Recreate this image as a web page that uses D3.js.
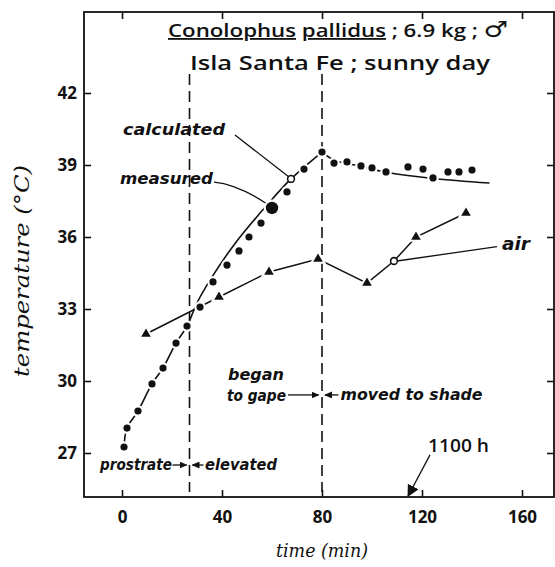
<!DOCTYPE html>
<html><head><meta charset="utf-8">
<script src="https://cdn.jsdelivr.net/npm/d3@7"></script>
<style>body{margin:0;background:#fff}svg{display:block}</style>
</head><body>
<svg id="c" width="555" height="567"></svg>
<script>
// ---- data ----
const measuredTime = [0.8,2,6.4,12,16.4,21.6,26,31.2,36.4,42,46.8,50.8,55.6,60,66,72.8,80,84.8,90,95.6,100,105.6,114.4,120.4,124.4,130.4,134.8,140];
const measuredTemp = [27.25,28.04,28.75,29.88,30.54,31.58,32.29,33.08,34.13,34.83,35.42,36.0,36.58,37.21,37.88,38.83,39.54,39.08,39.13,38.96,38.88,38.71,38.92,38.83,38.46,38.71,38.71,38.79];
const highlightTime = 60;
const calcRiseTime = [0.8,2,6.4,12,16.4,21.6,26,30,35.2,45,58,67.6,80];
const calcRiseTemp = [27.25,28.04,28.75,29.88,30.54,31.58,32.29,33.25,34.2,35.7,37.33,38.42,39.54];
const calcFallTime = [80,85,95,105.6,124.4,147];
const calcFallTemp = [39.54,39.2,38.96,38.7,38.44,38.25];
const airTime = [9.6,38.8,58.8,78.4,98,108.8,117.6,137.6];
const airTemp = [31.96,33.5,34.54,35.08,34.08,35.0,36.0,37.0];
const calcMarker = [67.6,38.42];
const airMarker = [108.8,35.0];
const eventTimes = [27,80];
const xTicks = [0,40,80,120,160];
const yTicks = [27,30,33,36,39,42];

// ---- layout ----
const frame = {left:84, right:554, top:12, bottom:497};
const ink = "#111";
const svg = d3.select("#c");
const x = d3.scaleLinear().domain([0,160]).range([122,522]);
const y = d3.scaleLinear().domain([27,42]).range([453,93]);

const defs = svg.append("defs");
defs.append("marker").attr("id","ah").attr("markerUnits","userSpaceOnUse")
  .attr("markerWidth",8).attr("markerHeight",7).attr("refX",7).attr("refY",3.5).attr("orient","auto")
  .append("path").attr("d","M0,0 L8,3.5 L0,7 Z").attr("fill",ink);
defs.append("marker").attr("id","ahBig").attr("markerUnits","userSpaceOnUse")
  .attr("markerWidth",12).attr("markerHeight",12).attr("refX",11).attr("refY",6).attr("orient","auto")
  .append("path").attr("d","M0,0 L12,6 L0,12 Z").attr("fill",ink);

// frame
svg.append("rect").attr("x",frame.left).attr("y",frame.top)
  .attr("width",frame.right-frame.left).attr("height",frame.bottom-frame.top)
  .attr("fill","none").attr("stroke",ink).attr("stroke-width",1.8);

const tickFont = "'Open Sans', sans-serif";
function styleAxis(g){
  g.select(".domain").remove();
  g.selectAll(".tick line").attr("stroke",ink).attr("stroke-width",1.6);
  g.selectAll(".tick text").attr("fill",ink).style("font-family",tickFont)
    .style("font-size","17px").style("font-weight","700");
}
svg.append("g").attr("transform",`translate(${frame.left},0)`)
  .call(d3.axisLeft(y).tickValues(yTicks).tickSize(-7).tickPadding(7).tickFormat(d3.format("d")))
  .call(styleAxis);
svg.append("g").attr("transform",`translate(0,${frame.bottom})`)
  .call(d3.axisBottom(x).tickValues(xTicks).tickSize(-7).tickPadding(14).tickFormat(d3.format("d")))
  .call(styleAxis);
svg.append("g").attr("transform",`translate(0,${frame.top})`)
  .call(d3.axisTop(x).tickValues(xTicks).tickSize(-7).tickFormat(""))
  .call(styleAxis);
svg.append("g").attr("transform",`translate(${frame.right},0)`)
  .call(d3.axisRight(y).tickValues(yTicks).tickSize(-7).tickFormat(""))
  .call(styleAxis);

// axis titles
svg.append("text").attr("transform",`translate(29,271) rotate(-90)`)
  .attr("text-anchor","middle").attr("fill",ink)
  .style("font-family","'DejaVu Serif', serif").style("font-style","italic").style("font-size","20px")
  .attr("textLength",212).attr("lengthAdjust","spacingAndGlyphs")
  .text("temperature (°C)");
svg.append("text").attr("x",322).attr("y",557).attr("text-anchor","middle").attr("fill",ink)
  .style("font-family","'DejaVu Serif', serif").style("font-style","italic").style("font-size","19px")
  .attr("textLength",92).attr("lengthAdjust","spacingAndGlyphs")
  .text("time (min)");

// title
const t1 = svg.append("text").attr("x",338).attr("y",37).attr("text-anchor","middle").attr("fill",ink)
  .style("font-family","'Open Sans', sans-serif").style("font-weight","600").style("font-size","18px")
  .attr("textLength",340).attr("lengthAdjust","spacingAndGlyphs");
t1.append("tspan").style("text-decoration","underline").text("Conolophus");
t1.append("tspan").text(" ");
t1.append("tspan").style("text-decoration","underline").text("pallidus");
t1.append("tspan").text(" ; 6.9 kg ; ");
t1.append("tspan").style("font-family","'DejaVu Sans', sans-serif").style("font-size","22px").style("font-weight","bold").text("♂");
svg.append("text").attr("x",340).attr("y",70).attr("text-anchor","middle").attr("fill",ink)
  .style("font-family","'Open Sans', sans-serif").style("font-weight","600").style("font-size","19px")
  .attr("textLength",300).attr("lengthAdjust","spacingAndGlyphs")
  .text("Isla Santa Fe ; sunny day");

// event dashed lines
svg.append("g").selectAll("line").data(eventTimes).join("line")
  .attr("x1",d=>x(d)).attr("x2",d=>x(d)).attr("y1",74).attr("y2",492)
  .attr("stroke",ink).attr("stroke-width",1.6).attr("stroke-dasharray","11,6");

// lines
const line = d3.line().x(d=>x(d[0])).y(d=>y(d[1])).curve(d3.curveCatmullRom.alpha(0.5));
const riseData = calcRiseTime.map((t,i)=>[t,calcRiseTemp[i]]);
const fallData = calcFallTime.map((t,i)=>[t,calcFallTemp[i]]);
const airData = airTime.map((t,i)=>[t,airTemp[i]]);
[riseData, fallData].forEach(d=>{
  svg.append("path").datum(d).attr("d",line).attr("fill","none").attr("stroke",ink).attr("stroke-width",1.6);
});
svg.append("path").datum(airData).attr("d",d3.line().x(d=>x(d[0])).y(d=>y(d[1])))
  .attr("fill","none").attr("stroke",ink).attr("stroke-width",1.5);

// measured dots (white halo behind gives the broken-line look)
const measured = measuredTime.map((t,i)=>[t,measuredTemp[i]]);
svg.append("g").selectAll("circle").data(measured).join("circle")
  .attr("cx",d=>x(d[0])).attr("cy",d=>y(d[1]))
  .attr("r",d=>d[0]===highlightTime?6.2:3.6)
  .attr("fill",ink).attr("stroke","#fff").attr("stroke-width",4.5).attr("paint-order","stroke");

// air triangles
const airPts = airData.filter(d=>!(d[0]===airMarker[0]&&d[1]===airMarker[1]));
svg.append("g").selectAll("path").data(airPts).join("path")
  .attr("transform",d=>`translate(${x(d[0])},${y(d[1])})`)
  .attr("d",d3.symbol(d3.symbolTriangle,40))
  .attr("fill",ink).attr("stroke","#fff").attr("stroke-width",4).attr("paint-order","stroke");

// open marker circles
svg.append("g").selectAll("circle").data([calcMarker, airMarker]).join("circle")
  .attr("cx",d=>x(d[0])).attr("cy",d=>y(d[1])).attr("r",3.4)
  .attr("fill","#fff").attr("stroke",ink).attr("stroke-width",1.6);

// leaders
function leader(pathD){ svg.append("path").attr("d",pathD).attr("fill","none").attr("stroke",ink).attr("stroke-width",1.3); }
leader(`M${x(45.2)},${y(40.25)} L${x(calcMarker[0])-2},${y(calcMarker[1])-2}`);
leader(`M${x(36.8)},${y(38.29)} Q${x(46)},${y(38.2)} ${x(57.4)},${y(37.42)}`);
leader(`M${x(airMarker[0])+3},${y(airMarker[1])} L${x(150)},${y(35.6)}`);

// labels
function label(txt, tx, ty, len, size, anchor, bold){
  return svg.append("text").attr("x",tx).attr("y",ty).attr("text-anchor",anchor||"start").attr("fill",ink)
    .style("font-family","'DejaVu Sans', sans-serif").style("font-style","italic")
    .style("font-weight",bold===false?"normal":"bold").style("font-size",size+"px")
    .attr("textLength",len).attr("lengthAdjust","spacingAndGlyphs").text(txt);
}
label("calculated", x(0.4), y(40.25), 102, 16);
label("measured", x(-0.8), y(38.2), 93, 16);
label("air", x(152), y(35.46), 28, 17);
label("began", x(42.4), y(30.04), 56, 16);
label("to gape", x(42), y(29.17), 59, 16);
label("moved to shade", x(87.4), y(29.2), 142, 15);
label("prostrate", x(-8.8), y(26.3), 72, 15);
label("elevated", x(33.2), y(26.3), 72, 15);
svg.append("text").attr("x",x(122.4)).attr("y",y(27.06)).attr("fill",ink)
  .style("font-family","'Open Sans', sans-serif").style("font-weight","600").style("font-size","18px")
  .attr("textLength",61).attr("lengthAdjust","spacingAndGlyphs").text("1100 h");

// small arrows to the event lines
function arrow(t1,T1,t2,T2,m){
  svg.append("line").attr("x1",x(t1)).attr("y1",y(T1)).attr("x2",x(t2)).attr("y2",y(T2))
    .attr("stroke",ink).attr("stroke-width",1.3).attr("marker-end",`url(#${m||"ah"})`);
}
arrow(20.2,26.5,25.8,26.5);
arrow(32.6,26.5,28.2,26.5);
arrow(66.4,29.42,78.6,29.42);
arrow(86.6,29.42,81.2,29.42);
arrow(123.2,26.92,114.4,25.2,"ahBig");
</script>
</body></html>
